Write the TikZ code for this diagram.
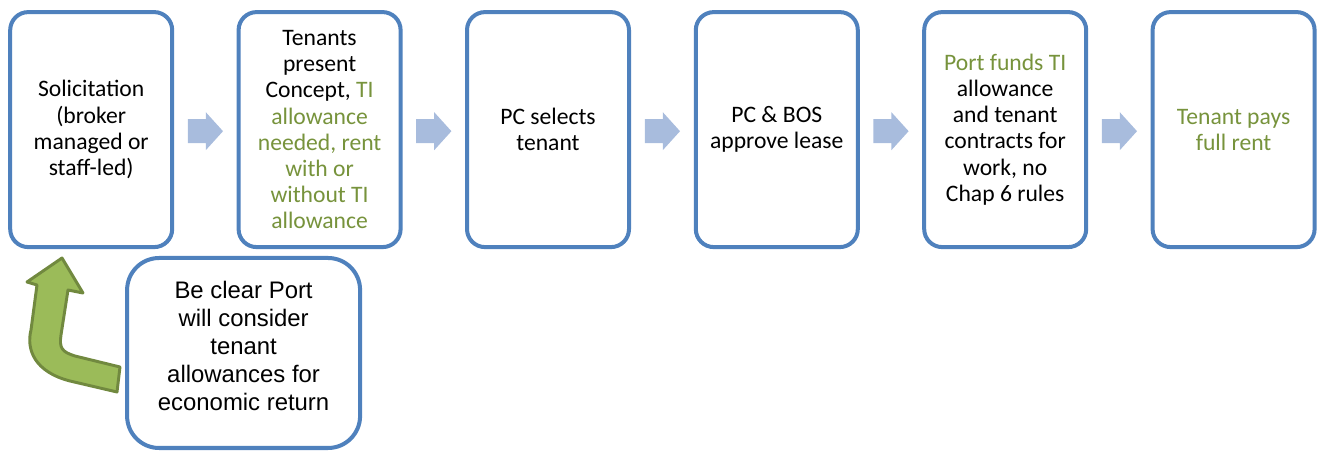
\documentclass[tikz,border=0pt]{standalone}
\usepackage{fontspec}
\setmainfont{Carlito}
\newfontfamily\arialfont{Liberation Sans}
\definecolor{stepblue}{RGB}{79,129,189}
\definecolor{chevblue}{RGB}{168,188,221}
\definecolor{tigreen}{RGB}{119,147,60}
\definecolor{bendfill}{RGB}{155,187,89}
\definecolor{benddraw}{RGB}{113,137,63}
\usetikzlibrary{calc}

\begin{document}
\begin{tikzpicture}[
  stepbox/.style={rectangle, rounded corners=0.45cm, draw=stepblue, line width=2.85pt,
                  fill=white, minimum width=4.05cm, minimum height=5.875cm,
                  font=\fontsize{16.8}{18.6}\selectfont, align=center, inner sep=2pt},
  notebox/.style={rectangle, rounded corners=0.8cm, draw=stepblue, line width=2.85pt,
                  fill=white, minimum width=5.825cm, minimum height=4.75cm,
                  font=\arialfont\fontsize{17}{20}\selectfont, align=center},
  chev/.style={fill=chevblue},
  bentarrow/.style={fill=bendfill, draw=benddraw, line width=2.1pt, line join=round}
]
\useasboundingbox (0,0) rectangle (32.925,-11.3);

% Process steps
\node[stepbox] (s1) at ( 2.28,-3.24) {Solicitation\\(broker\\managed or\\staff-led)};
\node[stepbox] (s2) at ( 7.99,-3.24) {Tenants\\present\\Concept, \textcolor{tigreen}{TI}\\\textcolor{tigreen}{allowance}\\\textcolor{tigreen}{needed, rent}\\\textcolor{tigreen}{with or}\\\textcolor{tigreen}{without TI}\\\textcolor{tigreen}{allowance}};
\node[stepbox] (s3) at (13.70,-3.24) {PC selects\\tenant};
\node[stepbox] (s4) at (19.42,-3.24) {PC \& BOS\\approve lease};
\node[stepbox] (s5) at (25.13,-3.24) {\textcolor{tigreen}{Port funds TI}\\allowance\\and tenant\\contracts for\\work, no\\Chap 6 rules};
\node[stepbox] (s6) at (30.84,-3.24) {\textcolor{tigreen}{Tenant pays}\\\textcolor{tigreen}{full rent}};

% Block arrows
\foreach \i/\j in {1/2,2/3,3/4,4/5,5/6}
  \fill[chev] ($(s\i.east)!0.5!(s\j.west)+(0,-0.04)$) ++(-0.44,0.3) -- ++(0.45,0) -- ++(0,0.175)
    -- ++(0.43,-0.475) -- ++(-0.43,-0.475) -- ++(0,0.175) -- ++(-0.45,0) -- cycle;

% Bent arrow
\draw[bentarrow] (2.925,-9.8) -- (1.75,-9.525) .. controls (0.875,-9.3) and (0.65,-8.75) .. (0.775,-8.25)
  -- (0.925,-7.125) -- (0.675,-7.05) -- (1.55,-6.45) -- (2.075,-7.325) -- (1.7,-7.25)
  -- (1.525,-8.375) .. controls (1.475,-8.7) and (1.55,-8.8) .. (1.875,-8.9) -- (3.0,-9.175) -- cycle;

% Note
\node[notebox] (note) at (6.09,-8.825) {Be clear Port\\will consider\\tenant\\allowances for\\economic return\\[-10pt]};
\end{tikzpicture}
\end{document}
